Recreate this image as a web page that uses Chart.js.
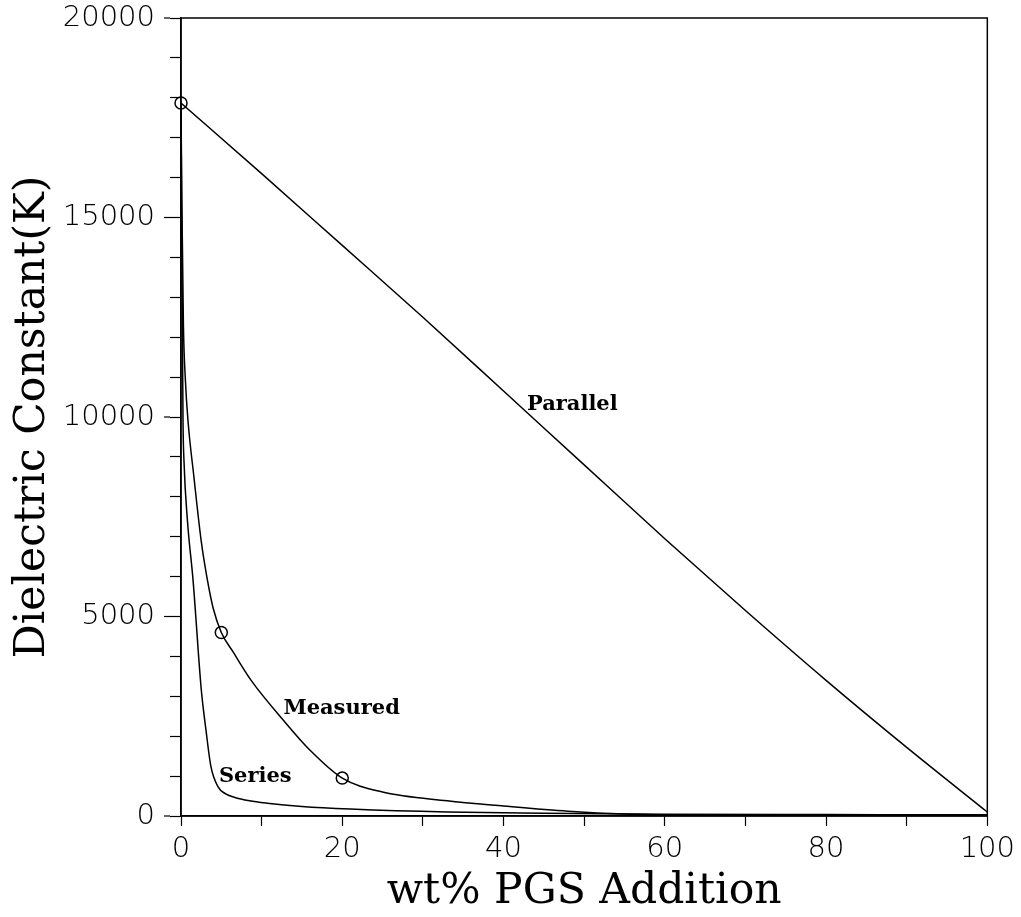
<!DOCTYPE html>
<html>
<head>
<meta charset="utf-8">
<script src="https://cdn.jsdelivr.net/npm/chart.js@4/dist/chart.umd.min.js"></script>
<style>
  html, body { margin: 0; padding: 0; background: #fff; }
  #wrap { width: 1021px; height: 917px; }
</style>
</head>
<body>
<div id="wrap"><canvas id="kChart"></canvas></div>
<script>
// values: [wt% PGS, K]
const parallelData = [[0,17870],[10,16100],[20,14300],[30,12500],[40,10650],[50,8800],[60,6950],[70,5150],[80,3400],[90,1720],[100,100]];
const measuredData = [[0,17870],[0.1,15500],[0.3,12300],[0.55,10900],[0.87,9900],[1.6,8500],[2.5,6900],[3.2,6000],[4,5200],[5,4600],[6.5,4100],[8.7,3400],[12.7,2400],[16,1650],[20,950],[25,600],[33,380],[40,250],[48,120],[55,50],[65,20],[80,10],[100,5]];
const seriesData = [[0,17870],[0.08,15000],[0.18,12000],[0.25,9900],[0.37,8900],[0.8,7400],[1.5,5900],[2.5,3200],[3.1,2150],[3.7,1250],[4.6,730],[5.5,560],[6.6,470],[8.5,380],[10.7,320],[15,240],[21,175],[33,100],[45,70],[60,45],[80,35],[100,30]];
const measuredPoints = [[0,17870],[5,4600],[20,950]];

// curve names and where they sit (data coordinates, left edge / middle)
const curveNames = ['Parallel', 'Measured', 'Series'];
const curveNameAt = [[42.9,10300],[12.7,2700],[4.7,980]];

const toXY = arr => arr.map(p => ({x: p[0], y: p[1]}));

const frame = {
  id: 'frame',
  afterDraw(chart) {
    const {ctx, chartArea: a, scales} = chart;
    ctx.save();
    ctx.strokeStyle = '#000';
    ctx.lineWidth = 1.5;
    ctx.strokeRect(a.left, a.top, a.right - a.left, a.bottom - a.top);
    // labelled y ticks are a bit longer
    ctx.lineWidth = 1.2;
    scales.y.ticks.forEach(t => {
      if (t.value % 5000 === 0) {
        const py = scales.y.getPixelForValue(t.value);
        ctx.beginPath();
        ctx.moveTo(a.left - 17, py);
        ctx.lineTo(a.left - 11, py);
        ctx.stroke();
      }
    });
    ctx.fillStyle = '#000';
    ctx.font = 'bold 21px "DejaVu Serif"';
    ctx.textBaseline = 'middle';
    ctx.textAlign = 'left';
    curveNames.forEach((t, i) => {
      ctx.fillText(t, scales.x.getPixelForValue(curveNameAt[i][0]), scales.y.getPixelForValue(curveNameAt[i][1]));
    });
    ctx.restore();
  }
};

const lineStyle = {
  borderColor: '#000',
  borderWidth: 1.5,
  pointRadius: 0,
  fill: false,
  cubicInterpolationMode: 'monotone'
};

new Chart(document.getElementById('kChart').getContext('2d'), {
  type: 'line',
  data: {
    datasets: [
      Object.assign({label: 'Parallel', data: toXY(parallelData)}, lineStyle),
      Object.assign({label: 'Measured', data: toXY(measuredData)}, lineStyle),
      Object.assign({label: 'Series', data: toXY(seriesData)}, lineStyle),
      {
        type: 'scatter',
        label: 'points',
        data: toXY(measuredPoints),
        pointRadius: 6,
        pointBorderWidth: 1.5,
        pointBorderColor: '#000',
        pointBackgroundColor: 'rgba(0,0,0,0)',
        showLine: false,
        clip: false
      }
    ]
  },
  options: {
    responsive: true,
    maintainAspectRatio: false,
    animation: false,
    layout: { padding: { top: 0, right: 31, left: 0, bottom: 0 } },
    plugins: {
      legend: { display: false },
      tooltip: { enabled: false }
    },
    scales: {
      x: {
        type: 'linear',
        min: 0,
        max: 100,
        afterFit: s => { s.height = 101; },
        border: { color: '#000', width: 1.5 },
        grid: { drawOnChartArea: false, tickLength: 10, tickColor: '#000', tickWidth: 1.2 },
        ticks: {
          stepSize: 10,
          autoSkip: false,
          maxRotation: 0,
          padding: 6,
          color: '#000',
          font: { family: 'DejaVu Sans', size: 29, weight: 300 },
          callback: v => (v % 20 === 0 ? v : '')
        },
        title: {
          display: true,
          text: 'wt% PGS Addition',
          color: '#000',
          font: { family: 'DejaVu Serif', size: 42.5 },
          padding: { top: 0, bottom: 0 }
        }
      },
      y: {
        min: 0,
        max: 20000,
        afterFit: s => { s.width = 181; s.paddingTop = 18; },
        border: { color: '#000', width: 1.5 },
        grid: { drawOnChartArea: false, tickLength: 11, tickColor: '#000', tickWidth: 1.2 },
        ticks: {
          stepSize: 1000,
          autoSkip: false,
          padding: 15,
          color: '#000',
          font: { family: 'DejaVu Sans', size: 29, weight: 300 },
          callback: v => (v % 5000 === 0 ? v : '')
        },
        title: {
          display: true,
          text: 'Dielectric Constant(K)',
          color: '#000',
          font: { family: 'DejaVu Serif', size: 42.5 },
          padding: { top: 7, bottom: 0 }
        }
      }
    }
  },
  plugins: [frame]
});
</script>
</body>
</html>
